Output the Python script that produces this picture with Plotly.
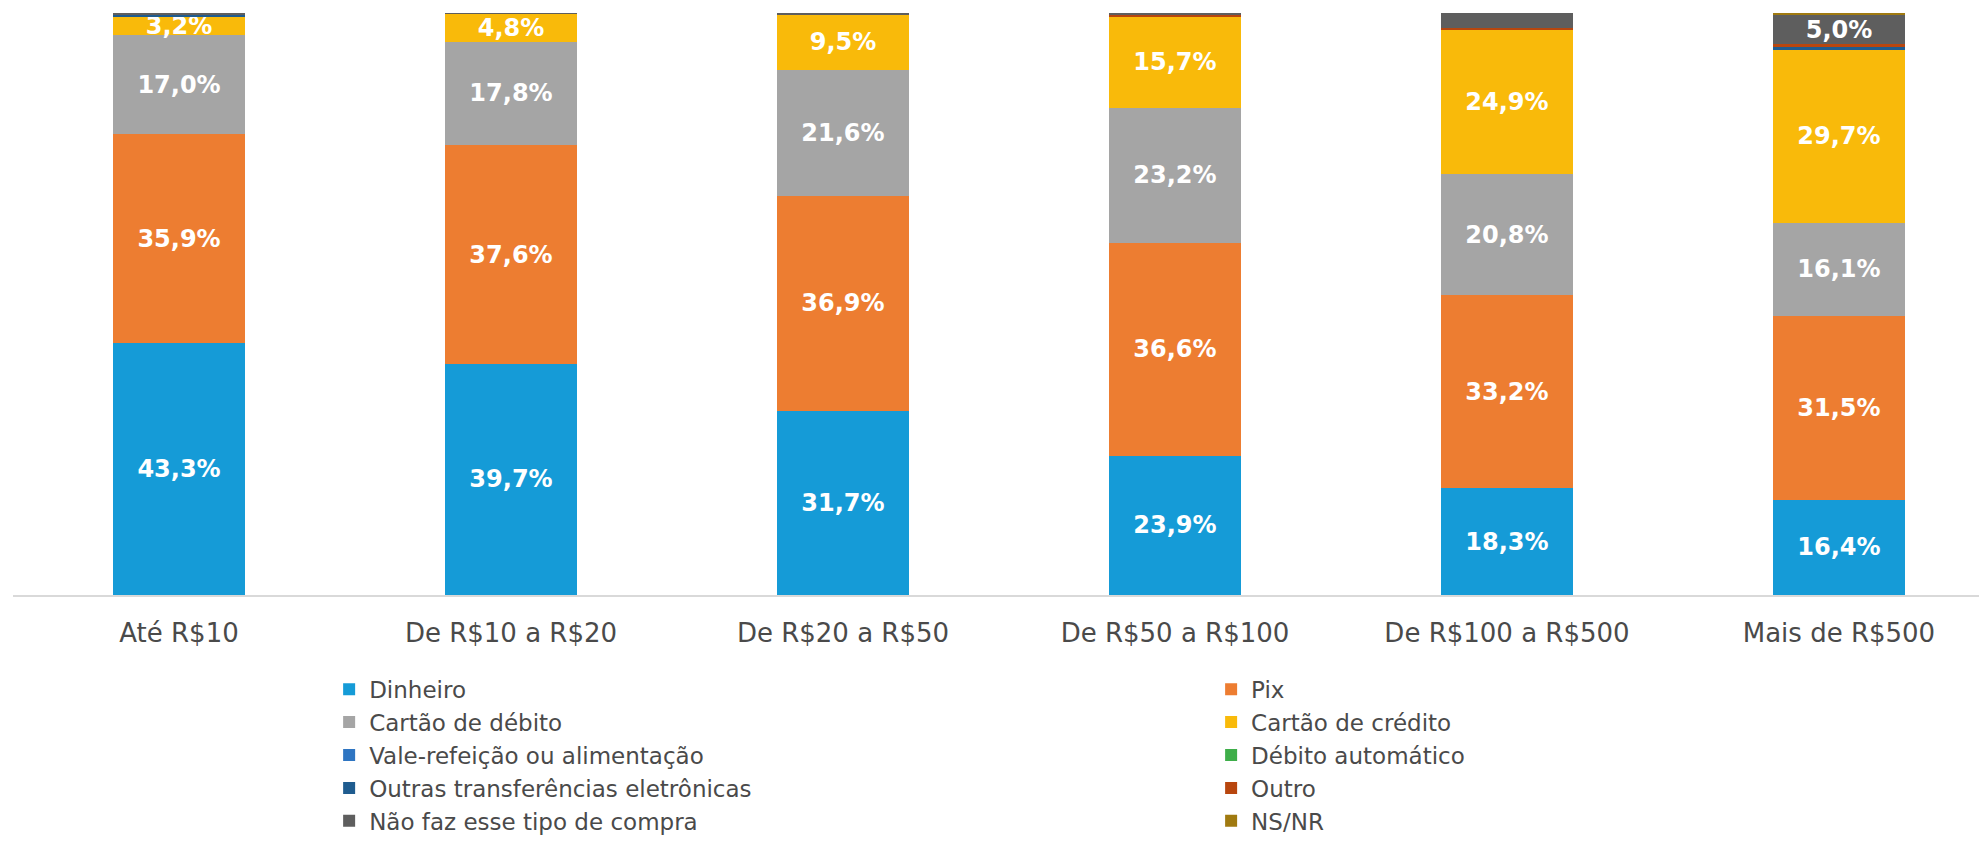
import plotly.graph_objects as go

categories = ["Até R$10", "De R$10 a R$20", "De R$20 a R$50",
              "De R$50 a R$100", "De R$100 a R$500", "Mais de R$500"]

dinheiro = [43.3, 39.7, 31.7, 23.9, 18.3, 16.4]
pix = [35.9, 37.6, 36.9, 36.6, 33.2, 31.5]
cartao_debito = [17.0, 17.8, 21.6, 23.2, 20.8, 16.1]
cartao_credito = [3.2, 4.8, 9.5, 15.7, 24.9, 29.7]
vale_refeicao = [0.0, 0.0, 0.0, 0.0, 0.0, 0.0]
debito_automatico = [0.0, 0.0, 0.0, 0.0, 0.0, 0.0]
outras_transf = [0.3, 0.0, 0.0, 0.0, 0.0, 0.4]
outro = [0.0, 0.0, 0.0, 0.3, 0.2, 0.5]
nao_faz = [0.3, 0.1, 0.3, 0.3, 2.6, 5.0]
ns_nr = [0.0, 0.0, 0.0, 0.0, 0.0, 0.4]

series = [
    ("Dinheiro", dinheiro, "#159BD7"),
    ("Pix", pix, "#ED7D31"),
    ("Cartão de débito", cartao_debito, "#A5A5A5"),
    ("Cartão de crédito", cartao_credito, "#F9BA0A"),
    ("Vale-refeição ou alimentação", vale_refeicao, "#2E75C2"),
    ("Débito automático", debito_automatico, "#3EAE49"),
    ("Outras transferências eletrônicas", outras_transf, "#1F5C8F"),
    ("Outro", outro, "#B8460E"),
    ("Não faz esse tipo de compra", nao_faz, "#5E5E5E"),
    ("NS/NR", ns_nr, "#A07A10"),
]

FONT = "DejaVu Sans"
TXT = "#4A4A4A"

def fmt(v):
    return (f"{v:.1f}".replace(".", ",") + "%") if v >= 3 else ""

fig = go.Figure()
for i, (name, vals, color) in enumerate(series):
    fig.add_trace(go.Bar(
        name=name, x=categories, y=vals,
        legend="legend" if i % 2 == 0 else "legend2",
        marker=dict(color=color, line=dict(width=0)),
        text=[fmt(v) for v in vals],
        texttemplate="%{text}",
        textposition="inside",
        insidetextanchor="middle",
        constraintext="none",
        textangle=0,
        textfont=dict(family=FONT, size=24, color="white", weight="bold"),
        hoverinfo="skip",
    ))

legend_common = dict(
    orientation="v",
    xanchor="left",
    y=-0.125, yanchor="top",
    font=dict(family=FONT, size=23, color=TXT),
    traceorder="normal",
    bgcolor="rgba(0,0,0,0)",
    itemclick=False,
)

fig.update_layout(
    barmode="stack",
    bargap=0.6,
    width=1987, height=843,
    margin=dict(l=5, r=0, t=5, b=256, autoexpand=False),
    paper_bgcolor="white", plot_bgcolor="white",
    font=dict(family=FONT, color=TXT),
    showlegend=True,
    legend=dict(x=0.1595, **legend_common),
    legend2=dict(x=0.6045, **legend_common),
    xaxis=dict(
        range=[-0.5, 5.47],
        showline=True, linecolor="#D9D9D9", linewidth=2,
        showgrid=False, zeroline=False,
        ticks="", ticklabelstandoff=14,
        tickfont=dict(family=FONT, size=26, color=TXT),
    ),
    yaxis=dict(range=[0, 100], visible=False, showgrid=False),
)

fig.write_html("out.html")
